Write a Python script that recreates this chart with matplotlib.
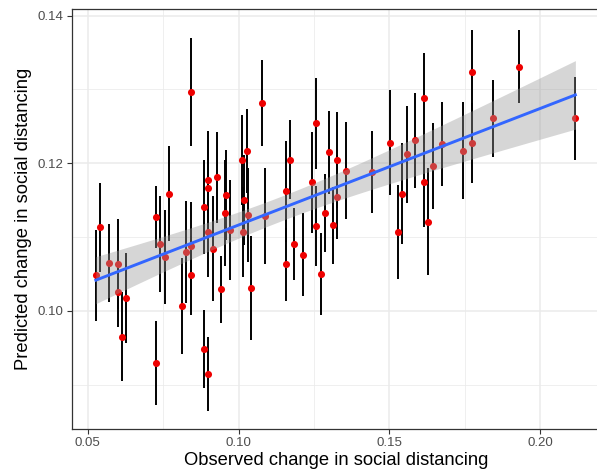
import matplotlib
matplotlib.use("Agg")
import matplotlib.pyplot as plt
import numpy as np

# observed vs predicted change, with prediction interval half-widths
observed = [0.0527, 0.0541, 0.0570, 0.0599, 0.0599, 0.0613, 0.0627, 0.0727, 0.0741, 0.0755,
            0.0770, 0.0727, 0.0814, 0.0826, 0.0842, 0.0842, 0.0842, 0.0885, 0.0899, 0.0899,
            0.0928, 0.0898, 0.0914, 0.0886, 0.0900, 0.0942, 0.0959, 0.0956, 0.0970, 0.1012,
            0.1028, 0.1017, 0.1030, 0.1014, 0.1042, 0.1079, 0.1086, 0.1156, 0.1172, 0.1157,
            0.1185, 0.1214, 0.1242, 0.1257, 0.1257, 0.1272, 0.1285, 0.1301, 0.1326, 0.1327,
            0.1314, 0.1357, 0.1442, 0.1501, 0.1529, 0.1542, 0.1557, 0.1586, 0.1615, 0.1615,
            0.1629, 0.1644, 0.1673, 0.1743, 0.1772, 0.1772, 0.1844, 0.1930, 0.2116]
predicted = [0.1048, 0.1113, 0.1065, 0.1063, 0.1026, 0.0965, 0.1018, 0.1127, 0.1091, 0.1073,
             0.1159, 0.0929, 0.1007, 0.1080, 0.1088, 0.1048, 0.1297, 0.1141, 0.1178, 0.1167,
             0.1181, 0.1107, 0.1084, 0.0948, 0.0914, 0.1029, 0.1157, 0.1133, 0.1110, 0.1204,
             0.1217, 0.1150, 0.1130, 0.1107, 0.1031, 0.1282, 0.1129, 0.1162, 0.1205, 0.1063,
             0.1091, 0.1076, 0.1174, 0.1254, 0.1115, 0.1050, 0.1133, 0.1215, 0.1205, 0.1154,
             0.1116, 0.1190, 0.1188, 0.1228, 0.1107, 0.1159, 0.1212, 0.1231, 0.1288, 0.1175,
             0.1121, 0.1196, 0.1226, 0.1217, 0.1324, 0.1227, 0.1261, 0.1331, 0.1261]
err = [0.0062, 0.0060, 0.0053, 0.0061, 0.0048, 0.0060, 0.0061, 0.0042, 0.0065, 0.0064,
       0.0064, 0.0057, 0.0065, 0.0069, 0.0060, 0.0054, 0.0073, 0.0064, 0.0066, 0.0065,
       0.0062, 0.0061, 0.0071, 0.0053, 0.0050, 0.0046, 0.0061, 0.0072, 0.0068, 0.0061,
       0.0057, 0.0061, 0.0064, 0.0061, 0.0071, 0.0058, 0.0065, 0.0068, 0.0053, 0.0049,
       0.0049, 0.0056, 0.0068, 0.0062, 0.0054, 0.0056, 0.0053, 0.0056, 0.0065, 0.0057,
       0.0052, 0.0066, 0.0056, 0.0071, 0.0064, 0.0069, 0.0066, 0.0064, 0.0061, 0.0061,
       0.0073, 0.0058, 0.0057, 0.0066, 0.0056, 0.0054, 0.0052, 0.0050, 0.0056]

x_ticks = [0.05, 0.10, 0.15, 0.20]
y_ticks = [0.10, 0.12, 0.14]

plt.rcParams['font.family'] = ['Liberation Sans', 'DejaVu Sans']

x = np.array(observed)
y = np.array(predicted)
e = np.array(err)

fig = plt.figure(figsize=(5.97, 4.75), dpi=100)
ax = fig.add_axes([72 / 597, 46 / 475, 527.5 / 597, 420 / 475])

# linear fit with 95% confidence band (like geom_smooth(method='lm'))
slope, intercept = np.polyfit(x, y, 1)
n = len(x)
resid = y - (slope * x + intercept)
s = np.sqrt(np.sum(resid ** 2) / (n - 2))
xs = np.linspace(x.min(), x.max(), 100)
ys = slope * xs + intercept
se = s * np.sqrt(1 / n + (xs - x.mean()) ** 2 / np.sum((x - x.mean()) ** 2))
tval = 1.995
ax.vlines(x, y - e, y + e, color='black', linewidth=1.4, zorder=2)
ax.scatter(x, y, s=26, color='#EE0000', zorder=3, linewidths=0)
ax.fill_between(xs, ys - tval * se, ys + tval * se, color='#999999', alpha=0.4,
                linewidth=0, zorder=4)
ax.plot(xs, ys, color='#3366FF', linewidth=2.1, zorder=5)

ax.set_xlim(0.0448, 0.2196)
ax.set_ylim(0.0840, 0.1409)
ax.set_xticks(x_ticks)
ax.set_xticklabels(['%.2f' % v for v in x_ticks])
ax.set_yticks(y_ticks)
ax.set_yticklabels(['%.2f' % v for v in y_ticks])
ax.set_xticks([0.075, 0.125, 0.175], minor=True)
ax.set_yticks([0.09, 0.11, 0.13], minor=True)

ax.grid(which='major', color='#EBEBEB', linewidth=1.1, zorder=0)
ax.grid(which='minor', color='#EBEBEB', linewidth=0.55, zorder=0)
ax.set_axisbelow(True)
ax.tick_params(which='major', direction='out', length=3.5, width=0.8, color='#333333',
               labelcolor='#4D4D4D', labelsize=9.5, pad=2.5)
ax.tick_params(which='minor', length=0)
for sp in ax.spines.values():
    sp.set_color('#333333')
    sp.set_linewidth(0.9)

ax.set_xlabel('Observed change in social distancing', fontsize=13.2, color='black', labelpad=2)
ax.set_ylabel('Predicted change in social distancing', fontsize=13.2, color='black', labelpad=4)

fig.savefig('out.png', dpi=100, facecolor='white')
